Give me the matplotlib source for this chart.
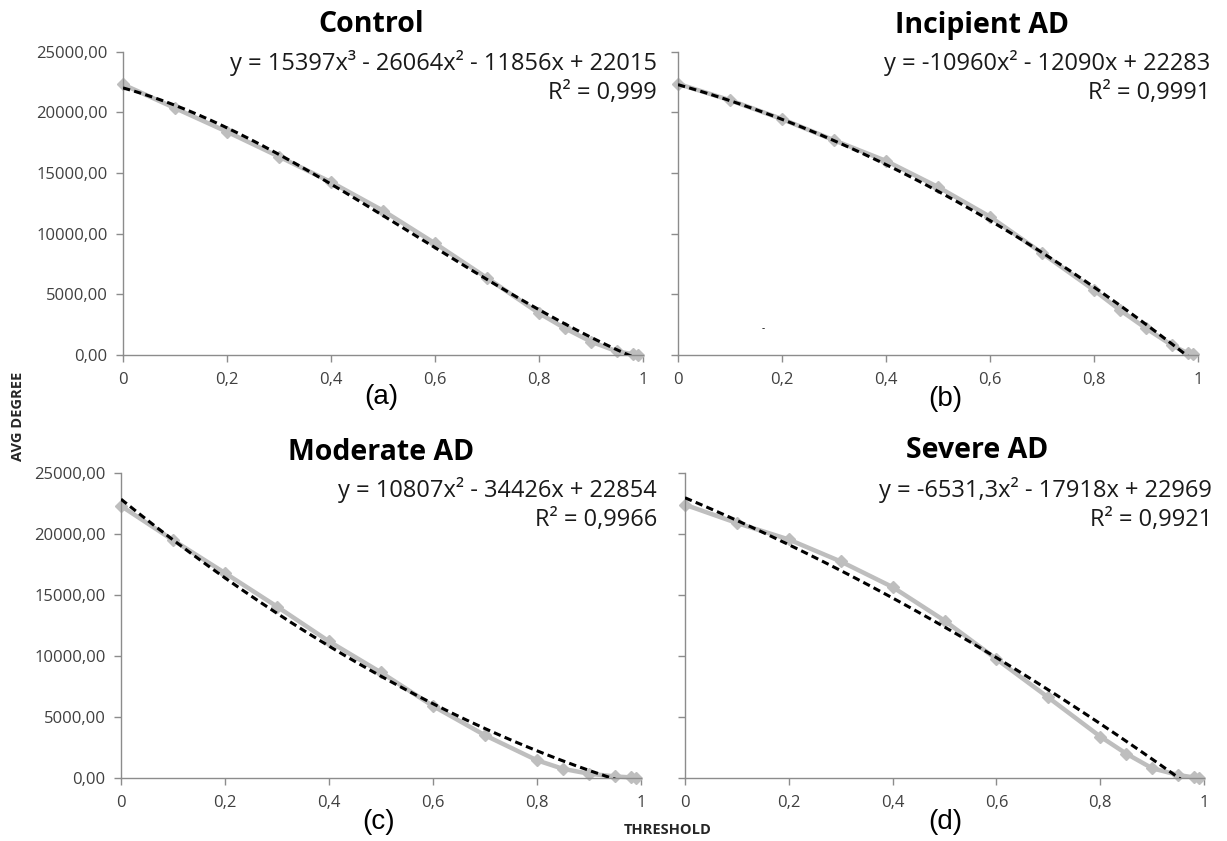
import matplotlib
matplotlib.use("Agg")
import matplotlib.pyplot as plt
from matplotlib.ticker import FuncFormatter, MultipleLocator
import numpy as np

plt.rcParams['font.family'] = ['Open Sans', 'DejaVu Sans']

# threshold values (x) shared by all four groups
threshold = [0, 0.1, 0.2, 0.3, 0.4, 0.5, 0.6, 0.7, 0.8, 0.85, 0.9, 0.95, 0.98, 0.99]

# average degree per group
control   = [22300, 20350, 18400, 16350, 14250, 11900, 9200, 6350, 3450, 2200, 1100, 300, 60, 20]
incipient = [22350, 21000, 19450, 17700, 16000, 13850, 11400, 8400, 5350, 3700, 2200, 800, 150, 50]
moderate  = [22300, 19500, 16800, 14050, 11200, 8650, 5900, 3500, 1450, 750, 350, 130, 50, 20]
severe    = [22400, 20900, 19550, 17750, 15650, 12900, 9750, 6600, 3400, 2000, 800, 250, 50, 20]

# trendline coefficients as printed on the chart (highest power first)
coef_control   = [15397, -26064, -11856, 22015]
coef_incipient = [-10960, -12090, 22283]
coef_moderate  = [10807, -34426, 22854]
coef_severe    = [-6531.3, -17918, 22969]

titles = ['Control', 'Incipient AD', 'Moderate AD', 'Severe AD']
equations = ['y = 15397x³ - 26064x² - 11856x + 22015',
             'y = -10960x² - 12090x + 22283',
             'y = 10807x² - 34426x + 22854',
             'y = -6531,3x² - 17918x + 22969']
r2_labels = ['R² = 0,999', 'R² = 0,9991', 'R² = 0,9966', 'R² = 0,9921']
sub_labels = ['(a)', '(b)', '(c)', '(d)']

W, H = 1227, 841
fig = plt.figure(figsize=(W / 100, H / 100), dpi=100)

def fx(x):
    return x / W

def fy(y):
    return 1 - y / H

# axes boxes in pixels: left, right, top, bottom
boxes = [(123, 643, 51.7, 355), (678, 1198, 51.7, 355),
         (121, 641, 473, 778), (685, 1204, 473, 778)]
# text anchors in pixels
title_pos = [(371, 25), (982, 25), (381, 453), (977, 450)]
eq_right = [657, 1210, 657, 1212]
eq_y = [(63, 93), (63, 93), (490, 520), (490, 520)]
sub_pos = [(381, 397), (945, 399), (379, 822), (945, 822)]

all_data = [control, incipient, moderate, severe]
all_coef = [coef_control, coef_incipient, coef_moderate, coef_severe]

grey = '#BEBEBE'
axis_grey = '#8C8C8C'
label_col = '#404040'

xfmt = FuncFormatter(lambda v, p: ('%g' % round(v, 1)).replace('.', ','))
yfmt = FuncFormatter(lambda v, p: ('%.2f' % v).replace('.', ','))

xs = np.linspace(0, max(threshold), 300)

for i in range(4):
    l, r, t, b = boxes[i]
    ax = fig.add_axes([fx(l), fy(b), fx(r - l), (b - t) / H])
    ax.plot(threshold, all_data[i], '-', color=grey, lw=3.2, marker='D',
            markersize=6.5, markerfacecolor=grey, markeredgecolor=grey,
            clip_on=False, zorder=2)
    ax.plot(xs, np.polyval(all_coef[i], xs), color='black', lw=2.2,
            dashes=(2.4, 1.4), zorder=3)
    ax.set_xlim(0, 1)
    ax.set_ylim(0, 25000)
    ax.xaxis.set_major_locator(MultipleLocator(0.2))
    ax.yaxis.set_major_locator(MultipleLocator(5000))
    ax.xaxis.set_major_formatter(xfmt)
    ax.yaxis.set_major_formatter(yfmt)
    for s in ['top', 'right']:
        ax.spines[s].set_visible(False)
    for s in ['left', 'bottom']:
        ax.spines[s].set_color(axis_grey)
        ax.spines[s].set_linewidth(1)
    ax.tick_params(axis='both', direction='out', length=5, width=1,
                   color=axis_grey, labelcolor=label_col, labelsize=12)
    ax.tick_params(axis='x', pad=7)
    ax.tick_params(axis='y', pad=6)
    if i in (1, 3):
        ax.tick_params(axis='y', labelleft=False)

    tx, ty = title_pos[i]
    fig.text(fx(tx), fy(ty), titles[i], ha='center', va='center',
             fontsize=20.5, fontweight='bold', color='black')
    fig.text(fx(eq_right[i]), fy(eq_y[i][0]), equations[i], ha='right',
             va='center', fontsize=17, color='#1a1a1a')
    fig.text(fx(eq_right[i]), fy(eq_y[i][1]), r2_labels[i], ha='right',
             va='center', fontsize=17, color='#1a1a1a')
    sx, sy = sub_pos[i]
    fig.text(fx(sx), fy(sy), sub_labels[i], ha='center', va='center',
             fontsize=20, family='Liberation Sans', color='black')

# stray mark in panel (b)
fig.text(fx(763), fy(329), '-', ha='center', va='center', fontsize=7, color='black')

fig.text(fx(18), fy(416), 'AVG DEGREE', rotation=90, ha='center', va='center',
         fontsize=10.5, fontweight='bold', color='#262626')
fig.text(fx(668), fy(830), 'THRESHOLD', ha='center', va='center',
         fontsize=10.5, fontweight='bold', color='#262626')

plt.savefig('out.png', dpi=100)
